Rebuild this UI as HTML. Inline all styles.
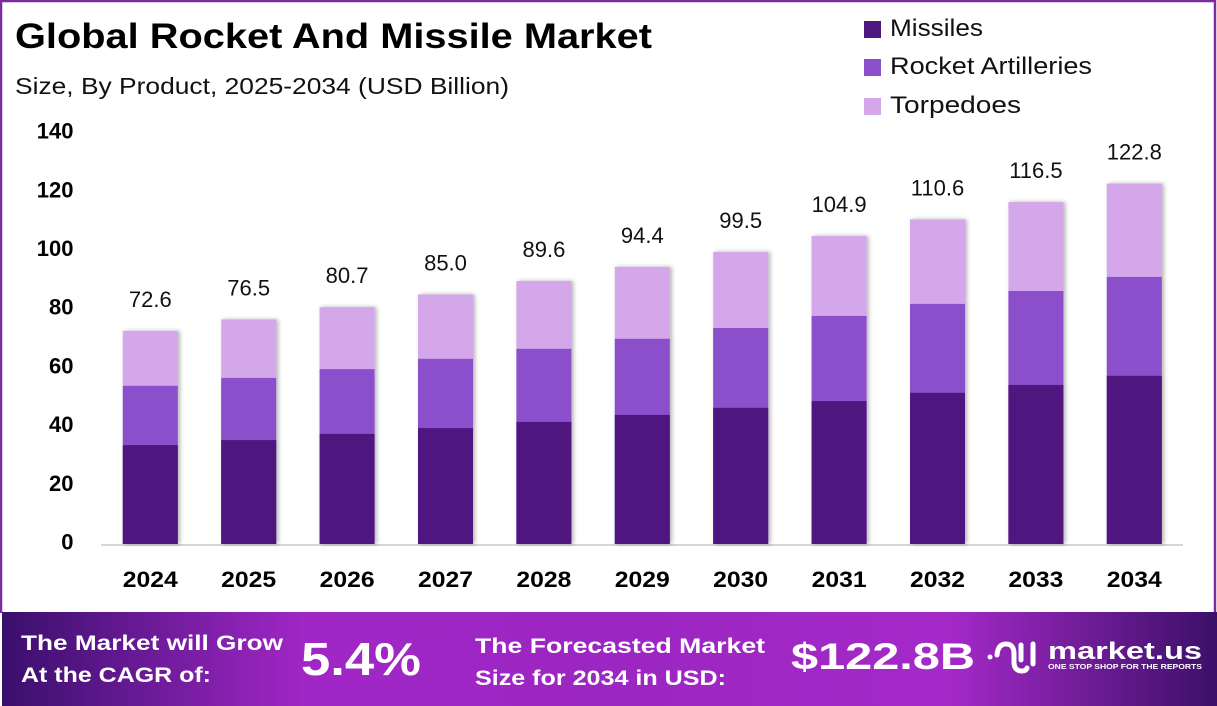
<!DOCTYPE html>
<html>
<head>
<meta charset="utf-8">
<style>
  html,body{margin:0;padding:0;background:#fff;}
  svg{display:block;}
  text{font-family:"Liberation Sans",Arial,sans-serif;}
</style>
</head>
<body>
<svg width="1217" height="706" viewBox="0 0 1217 706" xmlns="http://www.w3.org/2000/svg">
  <defs>
    <linearGradient id="bn" x1="0" y1="0" x2="1" y2="0">
      <stop offset="0" stop-color="#3a0f6c"/>
      <stop offset="0.25" stop-color="#a027c6"/>
      <stop offset="0.5" stop-color="#9c26c2"/>
      <stop offset="0.78" stop-color="#a429c8"/>
      <stop offset="1" stop-color="#3c1068"/>
    </linearGradient>
    <filter id="sh" x="-20%" y="-5%" width="140%" height="110%">
      <feDropShadow dx="2" dy="0" stdDeviation="2" flood-color="#000" flood-opacity="0.3"/>
    </filter>
  </defs>

  <rect x="0" y="0" width="1217" height="706" fill="#fff"/>
  <!-- border -->
  <path d="M1,613 L1,1 L1215,1 L1215,613" fill="none" stroke="#7b2ca0" stroke-width="2.5"/>

  <!-- title -->
  <text x="15" y="48" font-size="35" font-weight="bold" fill="#000" textLength="637" lengthAdjust="spacingAndGlyphs">Global Rocket And Missile Market</text>
  <text x="15" y="94" font-size="23.5" fill="#111" textLength="494" lengthAdjust="spacingAndGlyphs">Size, By Product, 2025-2034 (USD Billion)</text>

  <!-- legend -->
  <rect x="864" y="21" width="17" height="17" fill="#4f1880"/>
  <text x="890" y="36" font-size="24" fill="#111" textLength="93" lengthAdjust="spacingAndGlyphs">Missiles</text>
  <rect x="864" y="59" width="17" height="17" fill="#8c50cc"/>
  <text x="890" y="74" font-size="24" fill="#111" textLength="202" lengthAdjust="spacingAndGlyphs">Rocket Artilleries</text>
  <rect x="864" y="98" width="17" height="17" fill="#d3a7ea"/>
  <text x="890" y="113" font-size="24" fill="#111" textLength="131" lengthAdjust="spacingAndGlyphs">Torpedoes</text>

  <!-- y axis labels -->
  <g font-size="22" font-weight="bold" fill="#000" text-anchor="end">
    <text x="73.5" y="138.6">140</text>
    <text x="73.5" y="197.3">120</text>
    <text x="73.5" y="256">100</text>
    <text x="73.5" y="314.7">80</text>
    <text x="73.5" y="373.4">60</text>
    <text x="73.5" y="432.1">40</text>
    <text x="73.5" y="490.8">20</text>
    <text x="73.5" y="549.5">0</text>
  </g>

  <!-- axis line -->
  <line x1="101" y1="545" x2="1183" y2="545" stroke="#d6d6d6" stroke-width="2"/>

  <!-- bars -->
  <g filter="url(#sh)">
    <g>
      <rect x="122.8" y="330.9" width="55" height="213.1" fill="#d3a7ea"/>
      <rect x="122.8" y="385.8" width="55" height="158.2" fill="#8c50cc"/>
      <rect x="122.8" y="445.1" width="55" height="98.9" fill="#4f1880"/>
    </g>
    <g>
      <rect x="221.2" y="319.5" width="55" height="224.5" fill="#d3a7ea"/>
      <rect x="221.2" y="377.9" width="55" height="166.1" fill="#8c50cc"/>
      <rect x="221.2" y="440.1" width="55" height="103.9" fill="#4f1880"/>
    </g>
    <g>
      <rect x="319.6" y="307.1" width="55" height="236.9" fill="#d3a7ea"/>
      <rect x="319.6" y="369.1" width="55" height="174.9" fill="#8c50cc"/>
      <rect x="319.6" y="433.9" width="55" height="110.1" fill="#4f1880"/>
    </g>
    <g>
      <rect x="418.0" y="294.5" width="55" height="249.5" fill="#d3a7ea"/>
      <rect x="418.0" y="358.8" width="55" height="185.2" fill="#8c50cc"/>
      <rect x="418.0" y="428.1" width="55" height="115.9" fill="#4f1880"/>
    </g>
    <g>
      <rect x="516.4" y="281.0" width="55" height="263.0" fill="#d3a7ea"/>
      <rect x="516.4" y="348.8" width="55" height="195.2" fill="#8c50cc"/>
      <rect x="516.4" y="421.9" width="55" height="122.1" fill="#4f1880"/>
    </g>
    <g>
      <rect x="614.8" y="266.9" width="55" height="277.1" fill="#d3a7ea"/>
      <rect x="614.8" y="338.8" width="55" height="205.2" fill="#8c50cc"/>
      <rect x="614.8" y="414.9" width="55" height="129.1" fill="#4f1880"/>
    </g>
    <g>
      <rect x="713.2" y="252.0" width="55" height="292.0" fill="#d3a7ea"/>
      <rect x="713.2" y="328.0" width="55" height="216.0" fill="#8c50cc"/>
      <rect x="713.2" y="407.8" width="55" height="136.2" fill="#4f1880"/>
    </g>
    <g>
      <rect x="811.6" y="236.1" width="55" height="307.9" fill="#d3a7ea"/>
      <rect x="811.6" y="315.9" width="55" height="228.1" fill="#8c50cc"/>
      <rect x="811.6" y="401.1" width="55" height="142.9" fill="#4f1880"/>
    </g>
    <g>
      <rect x="910.0" y="219.4" width="55" height="324.6" fill="#d3a7ea"/>
      <rect x="910.0" y="303.9" width="55" height="240.1" fill="#8c50cc"/>
      <rect x="910.0" y="392.8" width="55" height="151.2" fill="#4f1880"/>
    </g>
    <g>
      <rect x="1008.4" y="202.1" width="55" height="341.9" fill="#d3a7ea"/>
      <rect x="1008.4" y="291.0" width="55" height="253.0" fill="#8c50cc"/>
      <rect x="1008.4" y="384.9" width="55" height="159.1" fill="#4f1880"/>
    </g>
    <g>
      <rect x="1106.8" y="183.6" width="55" height="360.4" fill="#d3a7ea"/>
      <rect x="1106.8" y="276.9" width="55" height="267.1" fill="#8c50cc"/>
      <rect x="1106.8" y="375.8" width="55" height="168.2" fill="#4f1880"/>
    </g>
  </g>

  <!-- value labels -->
  <g font-size="22" fill="#111" text-anchor="middle">
    <text x="150.3" y="306.9">72.6</text>
    <text x="248.7" y="295.5">76.5</text>
    <text x="347.1" y="283.1">80.7</text>
    <text x="445.5" y="270.5">85.0</text>
    <text x="543.9" y="257.0">89.6</text>
    <text x="642.3" y="242.9">94.4</text>
    <text x="740.7" y="228.0">99.5</text>
    <text x="839.1" y="212.1">104.9</text>
    <text x="937.5" y="195.4">110.6</text>
    <text x="1035.9" y="178.1">116.5</text>
    <text x="1134.3" y="159.6">122.8</text>
  </g>

  <!-- x labels -->
  <g font-size="22" font-weight="bold" fill="#000">
    <text x="122.8" y="587" textLength="55" lengthAdjust="spacingAndGlyphs">2024</text>
    <text x="221.2" y="587" textLength="55" lengthAdjust="spacingAndGlyphs">2025</text>
    <text x="319.6" y="587" textLength="55" lengthAdjust="spacingAndGlyphs">2026</text>
    <text x="418.0" y="587" textLength="55" lengthAdjust="spacingAndGlyphs">2027</text>
    <text x="516.4" y="587" textLength="55" lengthAdjust="spacingAndGlyphs">2028</text>
    <text x="614.8" y="587" textLength="55" lengthAdjust="spacingAndGlyphs">2029</text>
    <text x="713.2" y="587" textLength="55" lengthAdjust="spacingAndGlyphs">2030</text>
    <text x="811.6" y="587" textLength="55" lengthAdjust="spacingAndGlyphs">2031</text>
    <text x="910.0" y="587" textLength="55" lengthAdjust="spacingAndGlyphs">2032</text>
    <text x="1008.4" y="587" textLength="55" lengthAdjust="spacingAndGlyphs">2033</text>
    <text x="1106.8" y="587" textLength="55" lengthAdjust="spacingAndGlyphs">2034</text>
  </g>

  <!-- banner -->
  <rect x="2" y="612" width="1215" height="94" fill="url(#bn)"/>
  <g fill="#fff" font-weight="bold">
    <text x="21" y="650" font-size="21.5" textLength="262" lengthAdjust="spacingAndGlyphs">The Market will Grow</text>
    <text x="21" y="682" font-size="21.5" textLength="190" lengthAdjust="spacingAndGlyphs">At the CAGR of:</text>
    <text x="301" y="675" font-size="46" textLength="120" lengthAdjust="spacingAndGlyphs">5.4%</text>
    <text x="475" y="653" font-size="21.5" textLength="290" lengthAdjust="spacingAndGlyphs">The Forecasted Market</text>
    <text x="475" y="685" font-size="21.5" textLength="251" lengthAdjust="spacingAndGlyphs">Size for 2034 in USD:</text>
    <text x="791" y="669" font-size="37" textLength="184" lengthAdjust="spacingAndGlyphs">$122.8B</text>
    <text x="1048" y="659" font-size="24" textLength="154" lengthAdjust="spacingAndGlyphs">market.us</text>
    <text x="1048" y="669" font-size="7" textLength="154" lengthAdjust="spacingAndGlyphs">ONE STOP SHOP FOR THE REPORTS</text>
  </g>
  <!-- logo icon -->
  <g fill="none" stroke="#fff" stroke-width="5" stroke-linecap="round">
    <circle cx="990" cy="657" r="2.5" fill="#fff" stroke="none"/>
    <path d="M997,655 Q998,644 1006,644 Q1014,644 1014,654 L1014,662 Q1014,671 1022,671 Q1026,671 1027,668"/>
    <line x1="1021" y1="645" x2="1021" y2="660"/>
    <line x1="1033" y1="644" x2="1033" y2="664"/>
  </g>
</svg>
</body>
</html>
